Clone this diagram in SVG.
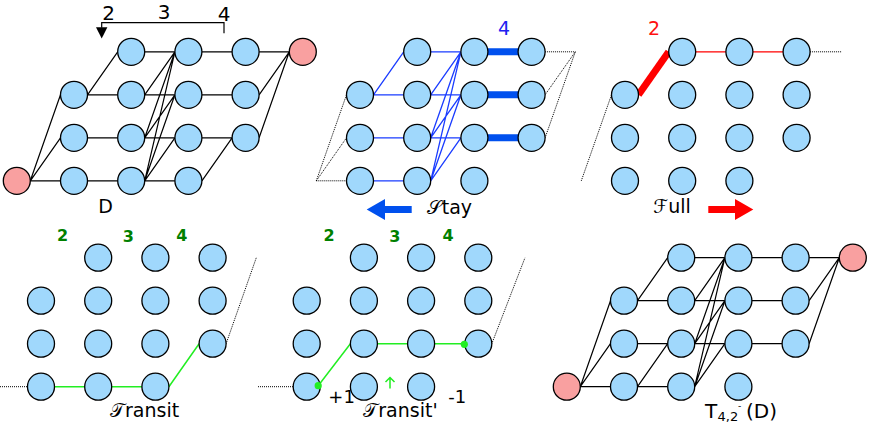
<svg xmlns="http://www.w3.org/2000/svg" width="869" height="422" viewBox="0 0 869 422">
<style>
.n{fill:#a0d8fc;stroke:#000;stroke-width:1.3}
.nr{fill:#f9a0a0;stroke:#000;stroke-width:1.3}
.k{fill:none;stroke:#000;stroke-width:1.2}
.b{fill:none;stroke:#1a3cff;stroke-width:1.3}
.bt{fill:none;stroke:#0050ee;stroke-width:7}
.rt{fill:none;stroke:#ff0000;stroke-width:7}
.r{fill:none;stroke:#ff0000;stroke-width:1.3}
.g{fill:none;stroke:#22ee22;stroke-width:1.5}
.dt{fill:none;stroke:#000;stroke-width:1;stroke-dasharray:1 1}
text{font-family:"DejaVu Sans","Liberation Sans",sans-serif;fill:#000}
.gl{fill:#008000;font-weight:bold;font-size:16px;text-anchor:middle}
</style>
<defs>
<circle id="c" r="13.5"/>
</defs>

<g id="connectors">
  <g id="conn-D" transform="translate(74,51.8)">
    <path class="k" d="M-43.7,129L-13.5,43M-43.7,129L-13.5,86M-43.7,129H-13.5M13.5,43L43.7,0M70.7,0H100.9M127.9,0H158.1M185.1,0H215.3M13.5,43H43.7M70.7,43H100.9M127.9,43H158.1M13.5,86H43.7M70.7,86H100.9M127.9,86H158.1M13.5,129H43.7M70.7,129H100.9M70.7,43L100.9,0M70.7,86L100.9,0M70.7,86L100.9,43M70.7,129L100.9,0M70.7,129L100.9,43M70.7,129L100.9,86M127.9,129L158.1,86M185.1,43L215.3,0M185.1,86L215.3,0"/>
    <path class="k" stroke-width="2" d="M27.7,-24V-29.1H150V-18.5"/>
    <path d="M22,-24.5H33.4L27.7,-13.3Z" fill="#000"/>
  </g>
  <g id="conn-Stay" transform="translate(360,51.8)">
    <path class="b" d="M13.5,43L43.7,0M70.7,0H100.9M13.5,43H43.7M70.7,43H100.9M13.5,86H43.7M70.7,86H100.9M13.5,129H43.7M70.7,43L100.9,0M70.7,86L100.9,0M70.7,86L100.9,43M70.7,129L100.9,0M70.7,129L100.9,43M70.7,129L100.9,86"/>
    <path class="bt" d="M127.9,0H158.1M127.9,43H158.1M127.9,86H158.1"/>
    <path class="dt" d="M-43.7,129L-13.5,43M-43.7,129L-13.5,86M-43.7,129H-13.5M185.1,0H215.3M215.3,0L185.1,43M215.3,0L185.1,86"/>
  </g>
  <g id="conn-Full" transform="translate(625,51.8)">
    <path class="rt" d="M13.5,43L43.7,0"/>
    <path class="r" d="M70.7,0H100.9M127.9,0H158.1"/>
    <path class="dt" d="M185.1,0H217M-43.7,129L-13.5,43"/>
  </g>
  <g id="conn-Transit" transform="translate(41,257.7)">
    <path class="g" d="M13.5,129H43.7M70.7,129H100.9M127.9,129L158.1,86"/>
    <path class="dt" d="M-41,129H-13.5M185.1,86L215.3,0"/>
  </g>
  <g id="conn-TransitP" transform="translate(306.7,257.7)">
    <path class="g" d="M11.5,128L43.7,86M70.7,86H100.9M127.9,86H157.6"/>
    <path class="dt" d="M-48.7,129H-13.5M185.1,86L218.3,0"/>
  </g>
  <g id="conn-T42" transform="translate(624,257.7)">
    <path class="k" d="M-43.7,129L-13.5,43M-43.7,129L-13.5,86M-43.7,129H-13.5M13.5,43L43.7,0M70.7,0H100.9M127.9,0H158.1M185.1,0H215.3M13.5,43H43.7M70.7,43H100.9M127.9,43H158.1M13.5,86H43.7M70.7,86H100.9M127.9,86H158.1M13.5,129H43.7M13.5,129L43.7,86M70.7,43L100.9,0M70.7,86L100.9,0M70.7,86L100.9,43M70.7,129L100.9,0M70.7,129L100.9,43M70.7,129L100.9,86M185.1,43L215.3,0M185.1,86L215.3,0"/>
  </g>
</g>

<g id="nodes-D" transform="translate(74,51.8)">
  <g id="D-s"><use href="#c" class="nr" x="-57.2" y="129"/></g>
  <g id="D-t"><use href="#c" class="nr" x="228.8" y="0"/></g>
  <g id="D-r0c2"><use href="#c" class="n" x="57.2" y="0"/></g>
  <g id="D-r0c3"><use href="#c" class="n" x="114.4" y="0"/></g>
  <g id="D-r0c4"><use href="#c" class="n" x="171.6" y="0"/></g>
  <g id="D-r1c1"><use href="#c" class="n" x="0" y="43"/></g>
  <g id="D-r1c2"><use href="#c" class="n" x="57.2" y="43"/></g>
  <g id="D-r1c3"><use href="#c" class="n" x="114.4" y="43"/></g>
  <g id="D-r1c4"><use href="#c" class="n" x="171.6" y="43"/></g>
  <g id="D-r2c1"><use href="#c" class="n" x="0" y="86"/></g>
  <g id="D-r2c2"><use href="#c" class="n" x="57.2" y="86"/></g>
  <g id="D-r2c3"><use href="#c" class="n" x="114.4" y="86"/></g>
  <g id="D-r2c4"><use href="#c" class="n" x="171.6" y="86"/></g>
  <g id="D-r3c1"><use href="#c" class="n" x="0" y="129"/></g>
  <g id="D-r3c2"><use href="#c" class="n" x="57.2" y="129"/></g>
  <g id="D-r3c3"><use href="#c" class="n" x="114.4" y="129"/></g>
</g>
<g id="nodes-Stay" transform="translate(360,51.8)">
  <g id="S-r0c2"><use href="#c" class="n" x="57.2" y="0"/></g>
  <g id="S-r0c3"><use href="#c" class="n" x="114.4" y="0"/></g>
  <g id="S-r0c4"><use href="#c" class="n" x="171.6" y="0"/></g>
  <g id="S-r1c1"><use href="#c" class="n" x="0" y="43"/></g>
  <g id="S-r1c2"><use href="#c" class="n" x="57.2" y="43"/></g>
  <g id="S-r1c3"><use href="#c" class="n" x="114.4" y="43"/></g>
  <g id="S-r1c4"><use href="#c" class="n" x="171.6" y="43"/></g>
  <g id="S-r2c1"><use href="#c" class="n" x="0" y="86"/></g>
  <g id="S-r2c2"><use href="#c" class="n" x="57.2" y="86"/></g>
  <g id="S-r2c3"><use href="#c" class="n" x="114.4" y="86"/></g>
  <g id="S-r2c4"><use href="#c" class="n" x="171.6" y="86"/></g>
  <g id="S-r3c1"><use href="#c" class="n" x="0" y="129"/></g>
  <g id="S-r3c2"><use href="#c" class="n" x="57.2" y="129"/></g>
  <g id="S-r3c3"><use href="#c" class="n" x="114.4" y="129"/></g>
</g>
<g id="nodes-Full" transform="translate(625,51.8)">
  <g id="F-r0c2"><use href="#c" class="n" x="57.2" y="0"/></g>
  <g id="F-r0c3"><use href="#c" class="n" x="114.4" y="0"/></g>
  <g id="F-r0c4"><use href="#c" class="n" x="171.6" y="0"/></g>
  <g id="F-r1c1"><use href="#c" class="n" x="0" y="43"/></g>
  <g id="F-r1c2"><use href="#c" class="n" x="57.2" y="43"/></g>
  <g id="F-r1c3"><use href="#c" class="n" x="114.4" y="43"/></g>
  <g id="F-r1c4"><use href="#c" class="n" x="171.6" y="43"/></g>
  <g id="F-r2c1"><use href="#c" class="n" x="0" y="86"/></g>
  <g id="F-r2c2"><use href="#c" class="n" x="57.2" y="86"/></g>
  <g id="F-r2c3"><use href="#c" class="n" x="114.4" y="86"/></g>
  <g id="F-r2c4"><use href="#c" class="n" x="171.6" y="86"/></g>
  <g id="F-r3c1"><use href="#c" class="n" x="0" y="129"/></g>
  <g id="F-r3c2"><use href="#c" class="n" x="57.2" y="129"/></g>
  <g id="F-r3c3"><use href="#c" class="n" x="114.4" y="129"/></g>
</g>
<g id="nodes-Transit" transform="translate(41,257.7)">
  <g id="T-r0c2"><use href="#c" class="n" x="57.2" y="0"/></g>
  <g id="T-r0c3"><use href="#c" class="n" x="114.4" y="0"/></g>
  <g id="T-r0c4"><use href="#c" class="n" x="171.6" y="0"/></g>
  <g id="T-r1c1"><use href="#c" class="n" x="0" y="43"/></g>
  <g id="T-r1c2"><use href="#c" class="n" x="57.2" y="43"/></g>
  <g id="T-r1c3"><use href="#c" class="n" x="114.4" y="43"/></g>
  <g id="T-r1c4"><use href="#c" class="n" x="171.6" y="43"/></g>
  <g id="T-r2c1"><use href="#c" class="n" x="0" y="86"/></g>
  <g id="T-r2c2"><use href="#c" class="n" x="57.2" y="86"/></g>
  <g id="T-r2c3"><use href="#c" class="n" x="114.4" y="86"/></g>
  <g id="T-r2c4"><use href="#c" class="n" x="171.6" y="86"/></g>
  <g id="T-r3c1"><use href="#c" class="n" x="0" y="129"/></g>
  <g id="T-r3c2"><use href="#c" class="n" x="57.2" y="129"/></g>
  <g id="T-r3c3"><use href="#c" class="n" x="114.4" y="129"/></g>
</g>
<g id="nodes-TransitP" transform="translate(306.7,257.7)">
  <g id="P-r0c2"><use href="#c" class="n" x="57.2" y="0"/></g>
  <g id="P-r0c3"><use href="#c" class="n" x="114.4" y="0"/></g>
  <g id="P-r0c4"><use href="#c" class="n" x="171.6" y="0"/></g>
  <g id="P-r1c1"><use href="#c" class="n" x="0" y="43"/></g>
  <g id="P-r1c2"><use href="#c" class="n" x="57.2" y="43"/></g>
  <g id="P-r1c3"><use href="#c" class="n" x="114.4" y="43"/></g>
  <g id="P-r1c4"><use href="#c" class="n" x="171.6" y="43"/></g>
  <g id="P-r2c1"><use href="#c" class="n" x="0" y="86"/></g>
  <g id="P-r2c2"><use href="#c" class="n" x="57.2" y="86"/></g>
  <g id="P-r2c3"><use href="#c" class="n" x="114.4" y="86"/></g>
  <g id="P-r2c4"><use href="#c" class="n" x="171.6" y="86"/></g>
  <g id="P-r3c1"><use href="#c" class="n" x="0" y="129"/></g>
  <g id="P-r3c2"><use href="#c" class="n" x="57.2" y="129"/></g>
  <g id="P-r3c3"><use href="#c" class="n" x="114.4" y="129"/></g>
  <g id="P-dots" fill="#22ee22"><circle cx="11.5" cy="128" r="3.6"/><circle cx="157.6" cy="86.6" r="3.6"/></g>
</g>
<g id="nodes-T42" transform="translate(624,257.7)">
  <g id="X-s"><use href="#c" class="nr" x="-57.2" y="129"/></g>
  <g id="X-t"><use href="#c" class="nr" x="228.8" y="0"/></g>
  <g id="X-r0c2"><use href="#c" class="n" x="57.2" y="0"/></g>
  <g id="X-r0c3"><use href="#c" class="n" x="114.4" y="0"/></g>
  <g id="X-r0c4"><use href="#c" class="n" x="171.6" y="0"/></g>
  <g id="X-r1c1"><use href="#c" class="n" x="0" y="43"/></g>
  <g id="X-r1c2"><use href="#c" class="n" x="57.2" y="43"/></g>
  <g id="X-r1c3"><use href="#c" class="n" x="114.4" y="43"/></g>
  <g id="X-r1c4"><use href="#c" class="n" x="171.6" y="43"/></g>
  <g id="X-r2c1"><use href="#c" class="n" x="0" y="86"/></g>
  <g id="X-r2c2"><use href="#c" class="n" x="57.2" y="86"/></g>
  <g id="X-r2c3"><use href="#c" class="n" x="114.4" y="86"/></g>
  <g id="X-r2c4"><use href="#c" class="n" x="171.6" y="86"/></g>
  <g id="X-r3c1"><use href="#c" class="n" x="0" y="129"/></g>
  <g id="X-r3c2"><use href="#c" class="n" x="57.2" y="129"/></g>
  <g id="X-r3c3"><use href="#c" class="n" x="114.4" y="129"/></g>
</g>

<g id="labels">
  <text x="108.5" y="19.5" font-size="20" text-anchor="middle">2</text>
  <text x="164" y="18.5" font-size="20" text-anchor="middle">3</text>
  <text x="224" y="20.5" font-size="20" text-anchor="middle">4</text>
  <text x="105.5" y="213" font-size="19" text-anchor="middle">D</text>

  <text x="504" y="35" font-size="19" text-anchor="middle" style="fill:#2020f0">4</text>
  <path d="M366.7,209.5L385,199V206H411.7V213H385V220Z" fill="#0050ee"/>
  <text x="426.7" y="213.5" font-size="19">𝒮tay</text>

  <text x="654" y="34.5" font-size="19" text-anchor="middle" style="fill:#ff1010">2</text>
  <text x="653.3" y="212.5" font-size="19">ℱull</text>
  <path d="M753.3,209.5L735,199V206H708.3V213H735V220Z" fill="#ff0000"/>

  <text class="gl" x="62.5" y="241">2</text>
  <text class="gl" x="128.3" y="242">3</text>
  <text class="gl" x="181.7" y="241">4</text>
  <text x="110" y="416.5" font-size="19">𝒯ransit</text>

  <text class="gl" x="329" y="241">2</text>
  <text class="gl" x="394.7" y="242">3</text>
  <text class="gl" x="448" y="241">4</text>
  <text x="328.3" y="403.3" font-size="18">+1</text>
  <text x="448.3" y="403.3" font-size="18">-1</text>
  <path class="g" d="M390,388.5V377.5M385.5,382L390,377.5L394.5,382"/>
  <text x="363.3" y="416.5" font-size="19">𝒯ransit'</text>

  <text x="705" y="417.5" font-size="20">T</text>
  <text x="717.5" y="420.5" font-size="13">4,2</text>
  <text x="738" y="409" font-size="9">-</text>
  <text x="746" y="417.5" font-size="20">(D)</text>
</g>
</svg>
